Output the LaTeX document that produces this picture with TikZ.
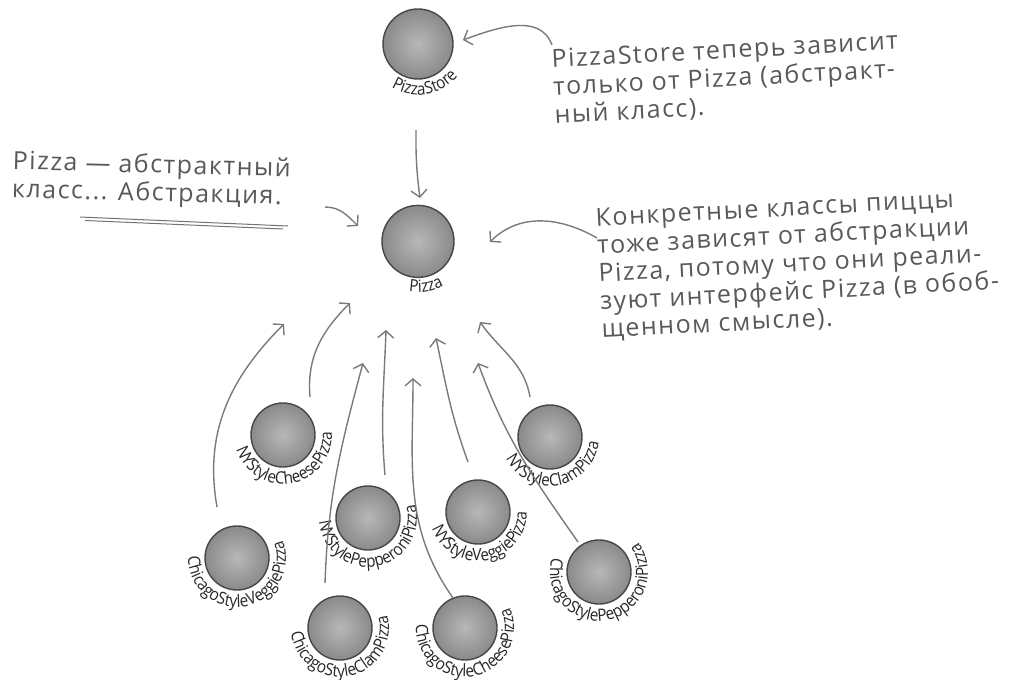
\documentclass[tikz,border=0pt]{standalone}
\usepackage{fontspec}
\setmainfont{Open Sans}
\newfontfamily\notefam[LetterSpace=6]{Open Sans}
\newfontfamily\lblfam[FakeStretch=0.9]{Open Sans}
\usetikzlibrary{arrows.meta,positioning,decorations.text}

\newcommand{\lblfont}{\lblfam\fontsize{17}{17}\selectfont}
\newcommand{\notefont}{\notefam\fontsize{25}{28}\selectfont}
% curved name under a sphere
\newcommand{\spherelabel}[3]{%
  \begingroup\lblfont
  \path[decorate, decoration={text along path, text={#2}, text align=center, text color=black!85}]
    (#1.center) ++(135:#3) arc[start angle=135, end angle=425, radius=#3];
  \endgroup}

\begin{document}
\begin{tikzpicture}[x=1pt, y=1pt,
    ball/.style={circle, draw=black!72, line width=1.4pt, inner color=black!28, outer color=black!46, minimum size=64pt, inner sep=0pt},
    arr/.style={draw=black!52, line width=1.4pt, -{Straight Barb[length=7pt,width=16pt]}},
    note/.style={text=black!65, align=left, anchor=north west, inner sep=0pt, font=\notefont}]
  \useasboundingbox (0,0) rectangle (1015,-680);

  % spheres
  \node[ball, minimum size=70pt] (store) at (418,-44) {};
  \node[ball, minimum size=72pt, below=125pt of store] (pizza) {};
  \node[ball] (nycheese) at (283,-435) {};
  \node[ball] (nypepperoni) at (368,-518) {};
  \node[ball] (nyveggie) at (478,-512) {};
  \node[ball] (nyclam) at (550,-437) {};
  \node[ball] (chveggie) at (237,-558) {};
  \node[ball] (chclam) at (340,-628) {};
  \node[ball] (chcheese) at (465,-628) {};
  \node[ball] (chpepperoni) at (599,-572) {};

  \spherelabel{store}{PizzaStore}{51pt}
  \spherelabel{pizza}{Pizza}{51pt}
  \spherelabel{nycheese}{NYStyleCheesePizza}{49pt}
  \spherelabel{nypepperoni}{NYStylePepperoniPizza}{49pt}
  \spherelabel{nyveggie}{NYStyleVeggiePizza}{49pt}
  \spherelabel{nyclam}{NYStyleClamPizza}{49pt}
  \spherelabel{chveggie}{ChicagoStyleVeggiePizza}{49pt}
  \spherelabel{chclam}{ChicagoStyleClamPizza}{49pt}
  \spherelabel{chcheese}{ChicagoStyleCheesePizza}{49pt}
  \spherelabel{chpepperoni}{ChicagoStylePepperoniPizza}{49pt}

  % dependency arrows
  \coordinate (s0) at (416,-130); \coordinate (e0) at (420,-198);
  \coordinate (s1) at (217,-507); \coordinate (e1) at (284,-324);
  \coordinate (s2) at (310,-397); \coordinate (e2) at (350,-303);
  \coordinate (s3) at (325,-583); \coordinate (e3) at (363,-363);
  \coordinate (s4) at (385,-475); \coordinate (e4) at (386,-330);
  \coordinate (s5) at (453,-598); \coordinate (e5) at (413,-378);
  \coordinate (s6) at (468,-462); \coordinate (e6) at (436,-338);
  \coordinate (s7) at (530,-397); \coordinate (e7) at (480,-322);
  \coordinate (s8) at (578,-542); \coordinate (e8) at (478,-363);

  \draw[arr] (s0) to[bend right=4] (e0);
  \draw[arr] (s1) to[out=100, in=225] (e1);
  \draw[arr] (s2) to[out=95, in=225] (e2);
  \draw[arr] (s3) to[out=88, in=255] (e3);
  \draw[arr] (s4) to[out=95, in=268] (e4);
  \draw[arr] (s5) to[out=125, in=270] (e5);
  \draw[arr] (s6) to[out=110, in=282] (e6);
  \draw[arr] (s7) to[out=100, in=305] (e7);
  \draw[arr] (s8) to[out=125, in=290] (e8);

  % notes
  \node[note, rotate=3] (storenote) at (551,-49)
    {PizzaStore теперь зависит\\только от Pizza (абстракт-\\ный класс).};
  \node[note, rotate=-1.5] (pizzanote) at (13,-150)
    {Pizza — абстрактный\\класс... Абстракция.};
  \node[note, rotate=3] (concretenote) at (595,-208)
    {Конкретные классы пиццы\\тоже зависят от абстракции\\Pizza, потому что они реали-\\зуют интерфейс Pizza (в обоб-\\щенном смысле).};

  \coordinate (n1) at (552,-45); \coordinate (m1) at (463,-40);
  \coordinate (n2) at (325,-207); \coordinate (m2) at (358,-226);
  \coordinate (n3) at (597,-238); \coordinate (m3) at (490,-242);
  \draw[arr] (n1) to[out=110, in=20] (m1);
  \draw[arr] (n2) to[out=0, in=135] (m2);
  \draw[arr] (n3) to[out=150, in=45] (m3);

  % underline
  \draw[black!55, line width=1pt] (80,-217) -- (288,-226);
  \draw[black!55, line width=1pt] (85,-220.5) -- (283,-229);
\end{tikzpicture}
\end{document}
